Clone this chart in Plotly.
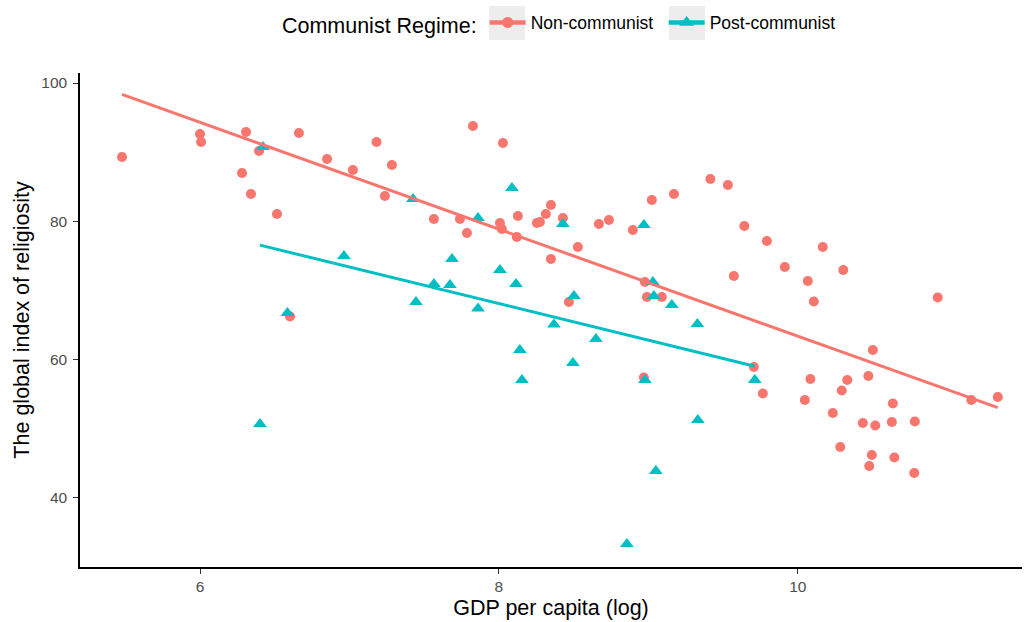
import numpy as np
import plotly.graph_objects as go

# Non-communist countries
nc_gdp = [5.478, 6.000, 6.007, 6.308, 6.281, 6.341, 6.395, 6.515, 6.662, 6.602,
          6.850, 7.023, 7.181, 7.284, 7.237, 7.565, 7.739, 7.786, 7.826, 8.027,
          8.007, 8.020, 8.127, 8.120, 8.254, 8.274, 8.314, 8.348, 8.348, 8.428,
          8.468, 8.528, 8.669, 8.736, 8.896, 8.970, 8.977, 8.990, 9.023, 9.090,
          9.171, 9.415, 9.532, 9.572, 9.642, 9.706, 9.766, 9.793, 9.913, 10.067,
          10.107, 10.167, 10.084, 10.047, 10.234, 10.284, 10.294, 10.304, 10.331, 10.435,
          10.472, 10.478, 10.495, 10.502, 10.518, 10.629, 10.636, 10.646, 10.783, 10.779,
          10.936, 11.161, 11.338]
nc_rel = [89.28, 92.61, 91.46, 92.90, 86.97, 83.92, 90.15, 81.03, 92.76, 66.18,
          88.99, 87.40, 91.46, 88.12, 83.64, 80.30, 80.30, 78.28, 93.77, 91.31,
          79.73, 78.86, 80.74, 77.70, 79.73, 79.87, 81.03, 82.33, 74.51, 80.45,
          68.28, 76.25, 79.58, 80.16, 78.71, 57.35, 71.18, 69.01, 83.06, 69.01,
          83.92, 86.10, 85.23, 72.05, 79.29, 58.87, 55.03, 77.12, 73.35, 71.33,
          68.36, 76.25, 57.13, 54.09, 52.21, 47.29, 55.47, 72.92, 56.99, 50.76,
          57.57, 44.53, 46.13, 61.33, 50.40, 50.91, 53.59, 45.76, 50.98, 43.52,
          68.94, 54.09, 54.53]

# Post-communist countries
pc_gdp = [6.401, 6.421, 6.585, 6.963, 7.425, 7.445, 7.565, 7.672, 7.686, 7.860,
          7.860, 8.007, 8.087, 8.114, 8.140, 8.154, 8.368, 8.428, 8.495, 8.502,
          8.649, 8.856, 8.970, 8.977, 9.030, 9.037, 9.050, 9.157, 9.328, 9.331,
          9.712]
pc_rel = [50.62, 90.73, 66.69, 74.95, 83.20, 68.28, 70.89, 70.75, 74.51, 80.45,
          67.34, 72.92, 84.79, 70.89, 61.33, 56.99, 65.03, 79.58, 59.45, 69.15,
          62.93, 33.24, 79.44, 56.99, 71.18, 69.15, 43.81, 67.85, 65.10, 51.20,
          56.99]

groups = ["Non-communist", "Post-communist"]
legend_title = "Communist Regime:"
x_title = "GDP per capita (log)"
y_title = "The global index of religiosity"
x_ticks = [6, 8, 10]
y_ticks = [40, 60, 80, 100]

RED = "#F8766D"
TEAL = "#00BFC4"
KEYBG = "#EDEDED"
FONT = "Liberation Sans, Arial, Helvetica, sans-serif"

fig = go.Figure()

series = [
    (groups[0], nc_gdp, nc_rel, RED, "circle", 10),
    (groups[1], pc_gdp, pc_rel, TEAL, "triangle-up", 12),
]

for name, xs, ys, col, sym, sz in series:
    fig.add_trace(go.Scatter(
        x=xs, y=ys, mode="markers", name=name, legendgroup=name,
        showlegend=False,
        marker=dict(color=col, symbol=sym, size=sz, line=dict(width=0)),
    ))

for name, xs, ys, col, sym, sz in series:
    xa = np.array(xs)
    ya = np.array(ys)
    b, a = np.polyfit(xa, ya, 1)
    lx = np.array([xa.min(), xa.max()])
    fig.add_trace(go.Scatter(
        x=lx, y=a + b * lx, mode="lines", name=name, legendgroup=name,
        showlegend=False, line=dict(color=col, width=3),
    ))

# legend carriers (line + marker key)
for name, xs, ys, col, sym, sz in series:
    fig.add_trace(go.Scatter(
        x=[None], y=[None], mode="lines+markers", name=name, legendgroup=name,
        marker=dict(color=col, symbol=sym, size=sz + 1),
        line=dict(color=col, width=4.5),
    ))

axis_common = dict(
    showline=True, linecolor="black", linewidth=1.5, mirror=False,
    ticks="outside", ticklen=5, tickwidth=1.1, tickcolor="#333333",
    showgrid=False, zeroline=False,
    tickfont=dict(family=FONT, size=15.5, color="#4D4D4D"),
)

# grey legend-key backgrounds (paper coordinates)
key_boxes = [(0.4342, 0.4724), (0.6253, 0.6635)]
shapes = [dict(type="rect", xref="paper", yref="paper", x0=k0, x1=k1,
               y0=1.0668, y1=1.1356, fillcolor=KEYBG, line=dict(width=0),
               layer="below") for k0, k1 in key_boxes]

fig.update_layout(
    width=1025, height=622,
    paper_bgcolor="white", plot_bgcolor="white",
    margin=dict(l=80, r=3, t=73, b=55),
    font=dict(family=FONT, color="black"),
    shapes=shapes,
    xaxis=dict(range=[5.197, 11.50], tickvals=x_ticks,
               title=dict(text=x_title, font=dict(family=FONT, size=21.5, color="black"),
                          standoff=6),
               **axis_common),
    yaxis=dict(range=[29.9, 101.45], tickvals=y_ticks, ticklabelstandoff=3,
               title=dict(text=y_title, font=dict(family=FONT, size=21.5, color="black"),
                          standoff=6),
               **axis_common),
    legend=dict(
        orientation="h", x=0.2122, xanchor="left", y=1.10, yanchor="middle",
        title=dict(text=legend_title, side="left",
                   font=dict(family=FONT, size=21.5, color="black")),
        font=dict(family=FONT, size=17.5, color="black"),
        itemwidth=36, entrywidth=128, bgcolor="rgba(0,0,0,0)",
    ),
)

fig.write_html("out.html")
